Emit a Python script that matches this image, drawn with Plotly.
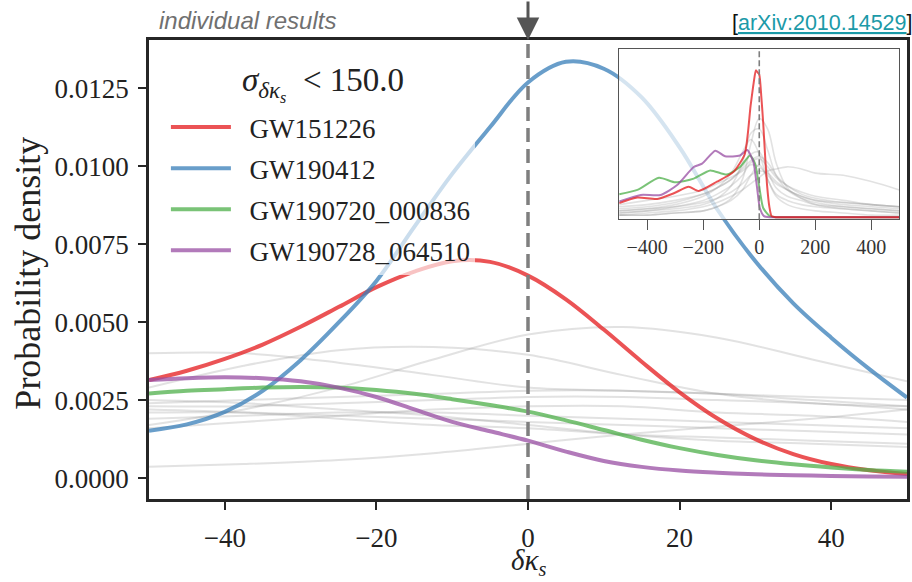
import plotly.graph_objects as go

# ---------------- data ----------------
x_main = [-50, -45, -40, -35, -30, -25, -20, -15, -10, -5, 0, 5, 10, 15, 20, 25, 30, 35, 40, 45, 50]
gw151226 = [0.00314, 0.00344, 0.00382, 0.00428, 0.00485, 0.00548, 0.00612, 0.00662, 0.00695, 0.00693, 0.00649,
            0.00573, 0.00476, 0.00373, 0.00275, 0.00191, 0.00125, 0.00077, 0.00045, 0.00025, 0.00013]
gw190412 = [0.00152, 0.00172, 0.00212, 0.0028, 0.00378, 0.00498, 0.00632, 0.00805, 0.00975, 0.01125, 0.01268,
            0.01334, 0.01312, 0.0122, 0.0106, 0.0086, 0.00695, 0.0056, 0.0045, 0.0035, 0.00258]
gw190720 = [0.00271, 0.0028, 0.00285, 0.0029, 0.00292, 0.0029, 0.00282, 0.0027, 0.00253, 0.00234, 0.00213,
            0.00185, 0.00154, 0.00123, 0.00096, 0.00074, 0.00057, 0.00044, 0.00034, 0.00026, 0.0002]
gw190728 = [0.00314, 0.0032, 0.00323, 0.0032, 0.0031, 0.0029, 0.0026, 0.0022, 0.0018, 0.0015, 0.0012,
            0.00085, 0.00055, 0.00036, 0.00024, 0.00017, 0.00012, 0.00009, 0.00007, 0.00005, 0.00004]

x_gray = [-50, -37.5, -25, -12.5, 0, 12.5, 25, 37.5, 50]
gray_main = [
    [0.0040, 0.0040, 0.0037, 0.0033, 0.0029, 0.0028, 0.0027, 0.0026, 0.0025],
    [0.0017, 0.0022, 0.0029, 0.0038, 0.0046, 0.00484, 0.0045, 0.0038, 0.0031],
    [0.0029, 0.0036, 0.0041, 0.0042, 0.00395, 0.0033, 0.0027, 0.0024, 0.0023],
    [0.00036, 0.00045, 0.00058, 0.0008, 0.0011, 0.0014, 0.00165, 0.0019, 0.0022],
    [0.0024, 0.0025, 0.0026, 0.0027, 0.0028, 0.0028, 0.0027, 0.0025, 0.0023],
    [0.0023, 0.0023, 0.0024, 0.0025, 0.0026, 0.0026, 0.0025, 0.0024, 0.0022],
    [0.0022, 0.0021, 0.0019, 0.0017, 0.0016, 0.0014, 0.0013, 0.0012, 0.0011],
    [0.0016, 0.0018, 0.0020, 0.0022, 0.0023, 0.0023, 0.0021, 0.0020, 0.0018],
    [0.0021, 0.0021, 0.0020, 0.0019, 0.0018, 0.0017, 0.0016, 0.0015, 0.0014],
    [0.0025, 0.0024, 0.0022, 0.0020, 0.0017, 0.0014, 0.0012, 0.0011, 0.0010],
    [0.0019, 0.0020, 0.0021, 0.0021, 0.0020, 0.0019, 0.0018, 0.0017, 0.0016],
]

# inset (wide range)
x_in_red = [-500, -435, -364, -305, -252, -216, -151, -92, -52, -31, -20, -12, -6, 0, 7, 14, 21, 28, 36, 44, 60, 150, 300, 500]
y_in_red = [0.00067, 0.00094, 0.00087, 0.00114, 0.00145, 0.00125, 0.00169, 0.00216, 0.0030, 0.0053, 0.0064, 0.0070,
            0.0069, 0.0068, 0.0058, 0.0045, 0.0029, 0.0015, 0.0005, 0.00005, 0.0, 0.0, 0.0, 0.0]
x_in_purple = [-500, -423, -352, -293, -234, -204, -157, -122, -69, -43, -21, -9, 2, 17, 40, 150, 300, 500]
y_in_purple = [0.00075, 0.00106, 0.00106, 0.00153, 0.00239, 0.00255, 0.00317, 0.0029, 0.00294, 0.0032, 0.00263,
               0.00153, 0.00044, 0.00005, 0.0, 0.0, 0.0, 0.0]
x_in_green = [-500, -435, -358, -299, -234, -175, -116, -69, -33, -15, -1, 14, 38, 60, 150, 300, 500]
y_in_green = [0.00109, 0.0013, 0.00188, 0.00166, 0.00184, 0.00223, 0.00203, 0.00239, 0.00294, 0.00255, 0.00153,
              0.00044, 0.00005, 0.0, 0.0, 0.0, 0.0]

x_in_gray = [-500, -400, -300, -200, -150, -100, -60, -30, 0, 30, 60, 100, 150, 200, 300, 400, 500]
gray_inset = [
    [0.0001, 0.0001, 0.0002, 0.0003, 0.0005, 0.0009, 0.0018, 0.0035, 0.0047, 0.0042, 0.0026, 0.0014, 0.0009, 0.0006, 0.0004, 0.0003, 0.0002],
    [0.0002, 0.0003, 0.0004, 0.0006, 0.0009, 0.0015, 0.0026, 0.0040, 0.0042, 0.0032, 0.0020, 0.0013, 0.0009, 0.0007, 0.0005, 0.0004, 0.0003],
    [0.0003, 0.0004, 0.0006, 0.0010, 0.0014, 0.0021, 0.0031, 0.0037, 0.0030, 0.0018, 0.0011, 0.0008, 0.0006, 0.0005, 0.0004, 0.0003, 0.0002],
    [0.0001, 0.0002, 0.0003, 0.0005, 0.0007, 0.0010, 0.0013, 0.0016, 0.0019, 0.0022, 0.0023, 0.0024, 0.0023, 0.0021, 0.0020, 0.0017, 0.0013],
    [0.0004, 0.0005, 0.0007, 0.0011, 0.0014, 0.0018, 0.0023, 0.0027, 0.0029, 0.0026, 0.0020, 0.0015, 0.0011, 0.0009, 0.0007, 0.0006, 0.0005],
    [0.0006, 0.0008, 0.0010, 0.0013, 0.0016, 0.0019, 0.0022, 0.0025, 0.0024, 0.0020, 0.0016, 0.0013, 0.0010, 0.0008, 0.0006, 0.0005, 0.0004],
    [0.0002, 0.0003, 0.0005, 0.0008, 0.0011, 0.0015, 0.0020, 0.0026, 0.0028, 0.0024, 0.0019, 0.0015, 0.0012, 0.0010, 0.0008, 0.0006, 0.0005],
    [0.0005, 0.0006, 0.0008, 0.0011, 0.0014, 0.0018, 0.0024, 0.0030, 0.0031, 0.0022, 0.0014, 0.0010, 0.0008, 0.0006, 0.0005, 0.0004, 0.0003],
    [0.0003, 0.0004, 0.0005, 0.0007, 0.0009, 0.0012, 0.0016, 0.0020, 0.0022, 0.0021, 0.0017, 0.0013, 0.0010, 0.0008, 0.0007, 0.0006, 0.0005],
    [0.0001, 0.0001, 0.0002, 0.0003, 0.0005, 0.0008, 0.0013, 0.0020, 0.0025, 0.0018, 0.0010, 0.0006, 0.0004, 0.0003, 0.0002, 0.0001, 0.0001],
]

names = ["GW151226", "GW190412", "GW190720_000836", "GW190728_064510"]
colors = ["rgba(228,26,28,0.75)", "rgba(55,126,184,0.75)", "rgba(77,175,74,0.75)", "rgba(152,78,163,0.75)"]
x_ticks_main = [-40, -20, 0, 20, 40]
y_ticks_main = [0.0, 0.0025, 0.005, 0.0075, 0.01, 0.0125]
x_ticks_inset = [-400, -200, 0, 200, 400]

SERIF = "Liberation Serif"
GRAY = "rgba(140,140,140,0.25)"
NB = "\u00a0\u00a0"

fig = go.Figure()

# main panel
for g in gray_main:
    fig.add_trace(go.Scatter(x=x_gray, y=g, mode="lines", showlegend=False, hoverinfo="skip",
                             line=dict(color=GRAY, width=2, shape="spline")))
for nm, col, ys in zip(names, colors, [gw151226, gw190412, gw190720, gw190728]):
    fig.add_trace(go.Scatter(x=x_main, y=ys, mode="lines", name=NB + nm, legendgroup=nm,
                             line=dict(color=col, width=4, shape="spline")))

# inset panel
for g in gray_inset:
    fig.add_trace(go.Scatter(x=x_in_gray, y=g, mode="lines", showlegend=False, hoverinfo="skip",
                             xaxis="x2", yaxis="y2", line=dict(color=GRAY, width=1.6, shape="spline")))
for col, xs, ys in [(colors[2], x_in_green, y_in_green), (colors[3], x_in_purple, y_in_purple),
                    (colors[0], x_in_red, y_in_red)]:
    fig.add_trace(go.Scatter(x=xs, y=ys, mode="lines", showlegend=False, xaxis="x2", yaxis="y2",
                             line=dict(color=col, width=2, shape="spline", smoothing=0.6)))

fig.update_layout(
    width=912, height=582,
    margin=dict(l=149, r=2, t=40, b=83),
    paper_bgcolor="white",
    plot_bgcolor="rgba(255,255,255,0.72)",
    font=dict(family=SERIF, size=26, color="#222"),
    xaxis=dict(range=[-50, 50], tickvals=x_ticks_main, showgrid=False, zeroline=False,
               showline=True, mirror=True, linewidth=2.5, linecolor="#262626",
               ticks="outside", ticklen=8, tickwidth=2, tickcolor="#262626", ticklabelstandoff=5,
               tickfont=dict(family=SERIF, size=27, color="#222")),
    yaxis=dict(range=[-0.00067, 0.01404], tickvals=y_ticks_main, tickformat=".4f", showgrid=False,
               zeroline=False, showline=True, mirror=True, linewidth=2.5, linecolor="#262626",
               ticks="outside", ticklen=8, tickwidth=2, tickcolor="#262626", ticklabelstandoff=4,
               tickfont=dict(family=SERIF, size=27, color="#222")),
    xaxis2=dict(domain=[0.6203, 0.9899], anchor="y2", range=[-500, 500], tickvals=x_ticks_inset,
                showgrid=False, zeroline=False, showline=True, mirror=True, linewidth=1.2, linecolor="#555",
                ticks="outside", ticklen=10, tickwidth=1.2, tickcolor="#555",
                tickfont=dict(family=SERIF, size=20, color="#333")),
    yaxis2=dict(domain=[0.6094, 0.9797], anchor="x2", range=[-0.0001, 0.0080], showgrid=False,
                zeroline=False, showline=True, mirror=True, linewidth=1.2, linecolor="#555",
                showticklabels=False, ticks=""),
    legend=dict(x=(166 - 149) / 762, y=(499 - 103) / 459, xanchor="left", yanchor="top",
                bgcolor="rgba(255,255,255,0.65)", borderwidth=0,
                font=dict(family=SERIF, size=27, color="#222"),
                itemwidth=60, tracegroupgap=3),
    showlegend=True,
)

# vertical reference lines at zero
fig.add_shape(type="line", xref="x", yref="paper", x0=0, x1=0, y0=0, y1=1,
              line=dict(color="#7f7f7f", width=3.5, dash="14px,7px"), layer="above")
fig.add_shape(type="line", xref="x2", yref="y2 domain", x0=0, x1=0, y0=0, y1=1,
              line=dict(color="#7f7f7f", width=1.6, dash="6px,3px"), layer="above")

# annotations
fig.add_annotation(x=0, xref="x", y=1, yref="paper", ax=0, ay=-40, axref="pixel", ayref="pixel",
                   showarrow=True, arrowhead=2, arrowsize=1.5, arrowwidth=3, arrowcolor="#555", text="")
fig.add_annotation(x=(324 - 149) / 762, xref="paper", y=(499 - 84) / 459, yref="paper",
                   xanchor="center", yanchor="middle", showarrow=False,
                   text="<i>σ</i><sub><i>δκ</i><sub><i>s</i></sub></sub>\u00a0\u00a0&lt;\u00a0150.0",
                   font=dict(family=SERIF, size=33, color="#222"))
fig.add_annotation(x=(157 - 149) / 762, xref="paper", y=(499 - 20) / 459, yref="paper",
                   xanchor="left", yanchor="middle", showarrow=False,
                   text="<i>individual results</i>",
                   font=dict(family="Liberation Sans", size=24, color="#707070"))
fig.add_annotation(x=(911 - 149) / 762, xref="paper", y=(499 - 23) / 459, yref="paper",
                   xanchor="right", yanchor="middle", showarrow=False, xshift=8,
                   text="[<span style='color:#1b9aa8'><u>arXiv:2010.14529</u></span>]",
                   font=dict(family="Liberation Sans", size=21.5, color="#111"))
fig.add_annotation(x=(27 - 149) / 762, xref="paper", y=(499 - 273) / 459, yref="paper",
                   xanchor="center", yanchor="middle", showarrow=False, textangle=-90,
                   text="Probability density", font=dict(family=SERIF, size=36, color="#222"))
fig.add_annotation(x=0.5, xref="paper", y=(499 - 562) / 459, yref="paper",
                   xanchor="center", yanchor="middle", showarrow=False,
                   text="<i>δκ</i><sub><i>s</i></sub>", font=dict(family=SERIF, size=29, color="#222"))

fig.write_html("out.html")
